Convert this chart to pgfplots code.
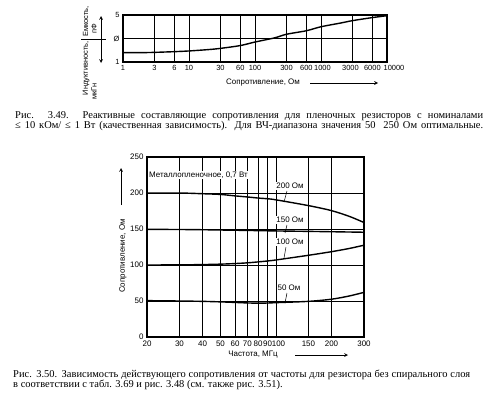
\documentclass[border=0pt]{standalone}
\usepackage{fontspec}
\setmainfont{Liberation Serif}
\newfontfamily\cf{Liberation Sans}
\usepackage{pgfplots}
\pgfplotsset{compat=1.18}
\begin{document}
\begin{tikzpicture}
\path[use as bounding box] (0,0) rectangle (500bp,-396bp);
% ---------- Fig 3.49 ----------
\begin{axis}[at={(123bp,-15bp)}, anchor=north west, scale only axis,
 width=264bp, height=47bp,
 xmode=log, xmin=1, xmax=10000, ymin=-1, ymax=1,
 xtick={1,3,6,10,30,60,100,300,600,1000,3000,6000,10000},
 xticklabels={1,3,6,10,30,60,100,300,600,\hspace{3bp}1000,\hspace{-4bp}3000,6000,\hspace{14bp}10000},
 ytick={-1,0,1}, yticklabels={1,Ø,5},
 grid=major, major grid style={line width=0.5bp, black},
 major tick length=0pt,
 axis line style={line width=1.2bp},
 ticklabel style={font=\cf\fontsize{7.5}{8}\selectfont},
 /pgf/number format/assume math mode=true,
 clip=false]
\addplot[line width=1.4bp, smooth, no marks] coordinates {
(1,-0.60) (2,-0.60) (3,-0.59) (6,-0.56) (10,-0.53) (20,-0.47) (30,-0.42)
(60,-0.30) (100,-0.15) (200,0.03) (300,0.18) (600,0.33) (1000,0.50)
(2000,0.66) (3000,0.76) (6000,0.89) (10000,0.97)};
\end{axis}
% y label of fig 3.49
\node[rotate=90, anchor=east, inner sep=0pt, font=\cf\fontsize{7.5}{8}\selectfont] at (86bp,-41bp) {Индуктивность,};
\node[rotate=90, anchor=west, inner sep=0pt, font=\cf\fontsize{7.5}{8}\selectfont] at (86bp,-37bp) {Емкость,};
\node[rotate=90, anchor=west, inner sep=0pt, font=\cf\fontsize{7.5}{8}\selectfont] at (94bp,-100bp) {мкГн};
\node[rotate=90, anchor=west, inner sep=0pt, font=\cf\fontsize{7.5}{8}\selectfont] at (94bp,-34bp) {пФ};
\draw[line width=0.5bp] (81bp,-39bp) -- (106bp,-39bp);
\draw[line width=0.7bp, -stealth] (101bp,-39bp) -- (101bp,-16bp);
\draw[line width=0.7bp, -stealth] (101bp,-39bp) -- (101bp,-63bp);
\node[font=\cf\fontsize{8}{9}\selectfont] at (263bp,-83bp) {Сопротивление, Ом};
\draw[line width=0.7bp, -stealth] (310bp,-83bp) -- (378bp,-83bp);
% caption 3.49
\node[anchor=base west, inner sep=0pt, font=\fontsize{10.5}{10}\selectfont] at (15bp,-118bp)
 {\makebox[468bp][s]{Рис. 3.49. Реактивные составляющие сопротивления для пленочных резисторов с номиналами}};
\node[anchor=base west, inner sep=0pt, font=\fontsize{10.5}{10}\selectfont] at (15bp,-128bp)
 {\makebox[468bp][s]{≤ 10 кОм/ ≤ 1 Вт (качественная зависимость). Для ВЧ-диапазона значения 50~~250 Ом оптимальные.}};
% ---------- Fig 3.50 ----------
\begin{axis}[at={(147bp,-157bp)}, anchor=north west, scale only axis,
 width=217bp, height=180bp,
 xmode=log, xmin=20, xmax=300, ymin=0, ymax=250,
 xtick={20,30,40,50,60,70,80,90,100,150,200,300},
 xticklabels={20,30,40,50,60,70,80,90,\hspace{5bp}100,150,200,300},
 ytick={0,50,100,150,200,250},
 grid=major, major grid style={line width=0.5bp, black},
 major tick length=0pt,
 axis line style={line width=1.2bp},
 ticklabel style={font=\cf\fontsize{8}{9}\selectfont},
 /pgf/number format/assume math mode=true,
 clip=false]
\addplot[line width=1.4bp, smooth, no marks] coordinates {
(20,200) (30,200) (40,199) (50,198) (60,196) (70,194.5) (80,193) (90,192)
(100,190.5) (150,182.5) (200,175.5) (250,167.5) (300,159)};
\addplot[line width=1.4bp, smooth, no marks] coordinates {
(20,149.5) (30,149.3) (40,149) (50,148.6) (70,148) (100,147.3) (150,146.7)
(200,146.2) (300,145.5)};
\addplot[line width=1.4bp, smooth, no marks] coordinates {
(20,100) (30,100.2) (40,100.6) (50,101.2) (60,102) (70,103) (80,104.3)
(90,105.6) (100,107) (150,113.5) (200,118.5) (250,123) (300,127.5)};
\addplot[line width=1.4bp, smooth, no marks] coordinates {
(20,50.5) (30,50) (40,49.5) (50,48.8) (60,48) (70,47.3) (80,47) (90,47.2)
(100,47.7) (150,49.5) (200,52.5) (250,57) (300,62)};
\end{axis}
\node[anchor=west, fill=white, inner sep=1bp, font=\cf\fontsize{8}{9}\selectfont] at (148bp,-175bp) {Металлопленочное, 0,7 Вт};
\node[fill=white, inner sep=1bp, font=\cf\fontsize{8}{9}\selectfont] at (290bp,-186bp) {200 Ом};
\node[fill=white, inner sep=1bp, font=\cf\fontsize{8}{9}\selectfont] at (290bp,-220bp) {150 Ом};
\node[fill=white, inner sep=1bp, font=\cf\fontsize{8}{9}\selectfont] at (290bp,-242bp) {100 Ом};
\node[fill=white, inner sep=1bp, font=\cf\fontsize{8}{9}\selectfont] at (289bp,-288bp) {50 Ом};
\draw[line width=0.5bp] (284bp,-202bp) -- (287bp,-191bp);
\draw[line width=0.5bp] (285bp,-233bp) -- (287bp,-225bp);
\draw[line width=0.5bp] (284bp,-258bp) -- (286bp,-247bp);
\draw[line width=0.5bp] (285bp,-303bp) -- (287bp,-293bp);
\node[rotate=90, font=\cf\fontsize{8}{9}\selectfont] at (123bp,-256bp) {Сопротивление, Ом};
\draw[line width=0.7bp, -stealth] (121bp,-205bp) -- (121bp,-168bp);
\node[font=\cf\fontsize{8}{9}\selectfont] at (253bp,-355bp) {Частота, МГц};
\draw[line width=0.7bp, -stealth] (295bp,-355bp) -- (348bp,-355bp);
% caption 3.50
\node[anchor=base west, inner sep=0pt, font=\fontsize{10.5}{10}\selectfont] at (13bp,-377bp)
 {\makebox[457bp][s]{Рис. 3.50. Зависимость действующего сопротивления от частоты для резистора без спирального слоя}};
\node[anchor=base west, inner sep=0pt, font=\fontsize{10.5}{10}\selectfont] at (13bp,-387bp)
 {в соответствии с табл. 3.69 и рис. 3.48 (см. также рис. 3.51).};
\end{tikzpicture}
\end{document}
